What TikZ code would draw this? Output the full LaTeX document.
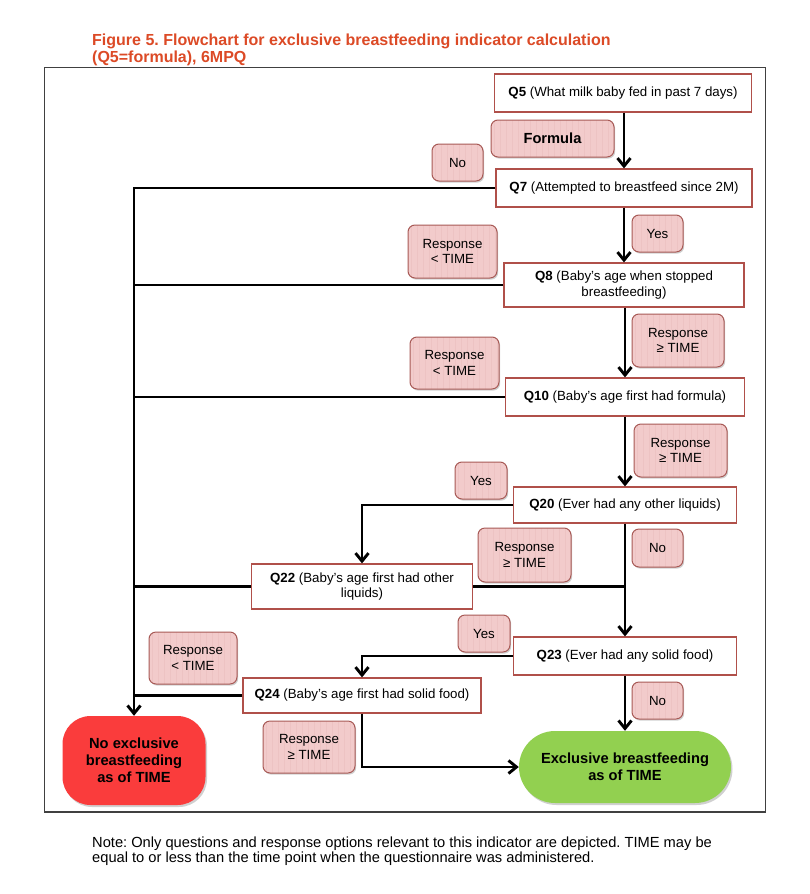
\documentclass[tikz,border=0pt]{standalone}
\usepackage{fontspec}
\setmainfont{Liberation Sans}
\usetikzlibrary{arrows.meta,shadows}
\frenchspacing

\definecolor{titlered}{HTML}{DC4A26}
\definecolor{qborder}{HTML}{B0504A}
\definecolor{lblfill}{HTML}{F2CBCB}
\definecolor{lblstripe}{HTML}{EDC3C3}
\definecolor{lblborder}{HTML}{A85A56}
\definecolor{noebf}{HTML}{FA3C3C}
\definecolor{ebf}{HTML}{92D050}
\definecolor{framec}{HTML}{404040}

\newcommand{\qfont}{\fontsize{13.3}{15.5}\selectfont}
\newcommand{\bigbold}{\fontsize{14.67}{17}\selectfont\bfseries}

\tikzset{
  qbox/.style={draw=qborder, line width=1.2pt, fill=white, inner sep=0pt,
    align=center, font=\qfont},
  lbl/.style={draw=lblborder, line width=1pt, fill=lblfill, rounded corners=7pt,
    inner sep=0pt, align=center, font=\qfont,
    drop shadow={shadow xshift=1.2pt, shadow yshift=-1.6pt, opacity=0.3, fill=black!60},
    path picture={
      \foreach \s in {3,9,...,130}
        \draw[lblstripe, line width=0.5pt, sharp corners]
          ([xshift=\s pt]path picture bounding box.south west) --
          ([xshift=\s pt]path picture bounding box.north west);
    }},
  term/.style={inner sep=0pt, align=center, font=\bigbold,
    drop shadow={shadow xshift=1.5pt, shadow yshift=-2pt, opacity=0.3, fill=black!60}},
  conn/.style={line width=2.9pt, black},
  arr/.style={conn, -{Straight Barb[length=8pt,width=13pt]}},
}

\begin{document}
\begin{tikzpicture}[x=1pt,y=-1pt]
\useasboundingbox[fill=white] (0,0) rectangle (809,894);

% heading and outer frame
\node[anchor=base west, inner sep=0pt, text=titlered, font=\fontsize{16}{17}\selectfont\bfseries]
  (title1) at (92,45.5) {Figure 5. Flowchart for exclusive breastfeeding indicator calculation};
\node[anchor=base west, inner sep=0pt, text=titlered, font=\fontsize{16}{17}\selectfont\bfseries]
  (title2) at (92,62) {(Q5=formula), 6MPQ};
\draw[framec, line width=1.5pt] (44.5,67.5) rectangle (765.5,812);

% question boxes
\node[qbox, minimum width=257pt, minimum height=38pt] (q5)  at (623,93)    {\textbf{Q5} (What milk baby fed in past 7 days)};
\node[qbox, minimum width=256pt, minimum height=38pt] (q7)  at (624,188)   {\textbf{Q7} (Attempted to breastfeed since 2M)};
\node[qbox, minimum width=240pt, minimum height=44pt] (q8)  at (624,285)   {\textbf{Q8} (Baby’s age when stopped\\breastfeeding)};
\node[qbox, minimum width=239pt, minimum height=38pt] (q10) at (625,397)   {\textbf{Q10} (Baby’s age first had formula)};
\node[qbox, minimum width=223pt, minimum height=36pt] (q20) at (625,505)   {\textbf{Q20} (Ever had any other liquids)};
\node[qbox, minimum width=221pt, minimum height=45pt] (q22) at (362,586.5) {\textbf{Q22} (Baby’s age first had other\\liquids)};
\node[qbox, minimum width=223pt, minimum height=38pt] (q23) at (625,656)   {\textbf{Q23} (Ever had any solid food)};
\node[qbox, minimum width=238pt, minimum height=35pt] (q24) at (362,695.5) {\textbf{Q24} (Baby’s age first had solid food)};

% outcomes
\node[term, fill=noebf, rounded corners=28pt, minimum width=143pt, minimum height=89pt]
  (noex) at (134,760.5) {No exclusive\\breastfeeding\\as of TIME};
\node[term, fill=ebf, rounded corners=36pt, minimum width=212pt, minimum height=72pt]
  (ex) at (625,767) {Exclusive breastfeeding\\as of TIME};

% response labels
\node[lbl, minimum width=123pt, minimum height=37pt, font=\bigbold] (lformula) at (552.5,138.5) {Formula};
\node[lbl, minimum width=51pt, minimum height=37pt] (lno1)  at (457.5,162.5) {No};
\node[lbl, minimum width=51pt, minimum height=37pt] (lyes1) at (657.5,233.5) {Yes};
\node[lbl, minimum width=89pt, minimum height=53pt] (llt1)  at (452.5,251.5) {Response\\< TIME};
\node[lbl, minimum width=92pt, minimum height=53pt] (lge1)  at (678,340.5)   {Response\\≥ TIME};
\node[lbl, minimum width=89pt, minimum height=52pt] (llt2)  at (454.5,363)   {Response\\< TIME};
\node[lbl, minimum width=93pt, minimum height=53pt] (lge2)  at (680.5,450.5) {Response\\≥ TIME};
\node[lbl, minimum width=52pt, minimum height=37pt] (lyes2) at (481,480.5)   {Yes};
\node[lbl, minimum width=51pt, minimum height=38pt] (lno2)  at (657.5,548)   {No};
\node[lbl, minimum width=93pt, minimum height=54pt] (lge3)  at (524.5,555)   {Response\\≥ TIME};
\node[lbl, minimum width=52pt, minimum height=37pt] (lyes3) at (484,633.5)   {Yes};
\node[lbl, minimum width=51pt, minimum height=37pt] (lno3)  at (657.5,700.5) {No};
\node[lbl, minimum width=88pt, minimum height=52pt] (llt3)  at (193,658)     {Response\\< TIME};
\node[lbl, minimum width=92pt, minimum height=52pt] (lge4)  at (309,747)     {Response\\≥ TIME};

% main path down the right
\draw[arr] (q5.south -| q7.south) -- (q7.north);
\draw[arr] (q7.south) -- (q8.north);
\draw[arr] (q8.south -| q10.north) -- (q10.north);
\draw[arr] (q10.south) -- (q20.north);
\draw[arr] (q20.south) -- (q23.north);
\draw[arr] (q23.south) -- (ex.north);

% branches to the left
\draw[arr] (q7.west) -| (noex.north);
\draw[conn] (q8.west) -- (q8.west -| noex.north);
\draw[conn] (q10.west) -- (q10.west -| noex.north);
\draw[conn] (q22.west) -- (q22.west -| noex.north);
\draw[conn] (q24.west) -- (q24.west -| noex.north);

% side questions
\draw[arr] (q20.west) -| (q22.north);
\draw[conn] (q22.east) -- (q22.east -| q20.south);
\draw[arr] (q23.west) -| (q24.north);
\draw[arr] (q24.south) |- (ex.west);

% note under the frame
\node[anchor=base west, inner sep=0pt, font=\fontsize{14.67}{15.5}\selectfont] (note1) at (92,847)
  {Note: Only questions and response options relevant to this indicator are depicted. TIME may be};
\node[anchor=base west, inner sep=0pt, font=\fontsize{14.67}{15.5}\selectfont] (note2) at (92,862)
  {equal to or less than the time point when the questionnaire was administered.};
\end{tikzpicture}
\end{document}
